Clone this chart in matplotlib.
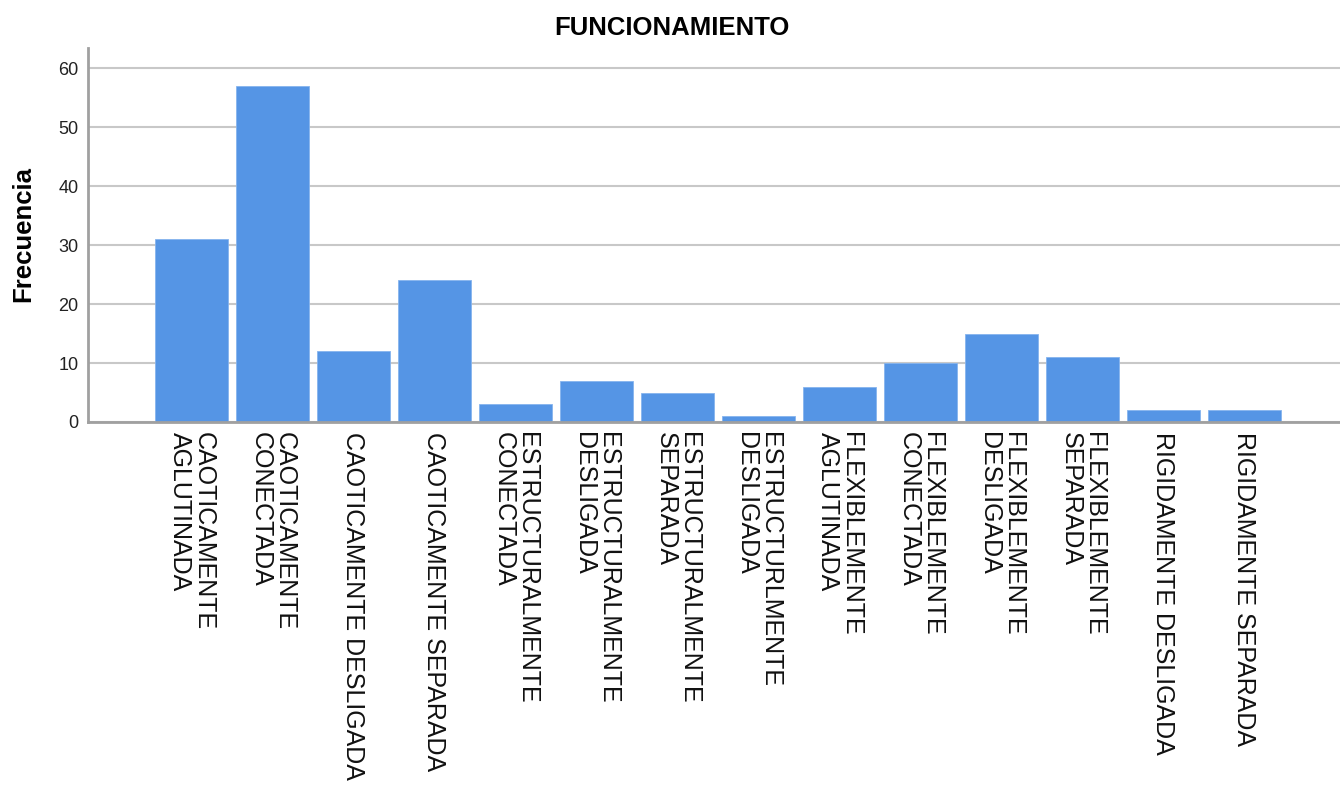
import matplotlib
matplotlib.use("Agg")
import matplotlib.pyplot as plt
from matplotlib.transforms import ScaledTranslation

categories = [
    "CAOTICAMENTE\nAGLUTINADA",
    "CAOTICAMENTE\nCONECTADA",
    "CAOTICAMENTE DESLIGADA",
    "CAOTICAMENTE SEPARADA",
    "ESTRUCTURALMENTE\nCONECTADA",
    "ESTRUCTURALMENTE\nDESLIGADA",
    "ESTRUCTURALMENTE\nSEPARADA",
    "ESTRUCTURLMENTE\nDESLIGADA",
    "FLEXIBLEMENTE\nAGLUTINADA",
    "FLEXIBLEMENTE\nCONECTADA",
    "FLEXIBLEMENTE\nDESLIGADA",
    "FLEXIBLEMENTE\nSEPARADA",
    "RIGIDAMENTE DESLIGADA",
    "RIGIDAMENTE SEPARADA",
]
frecuencia = [31, 57, 12, 24, 3, 7, 5, 1, 6, 10, 15, 11, 2, 2]
yticks = [0, 10, 20, 30, 40, 50, 60]

plt.rcParams['font.family'] = ['Liberation Sans', 'DejaVu Sans']

fig = plt.figure(figsize=(13.4, 7.87), dpi=100)
ax = fig.add_axes([88/1340, (787-422)/787, 1 - 88/1340, (422-48)/787])

x = list(range(len(categories)))
ax.bar(x, frecuencia, width=0.9, color='#5595e5', edgecolor='#86b4ee',
       linewidth=0.6, zorder=3)

ax.set_xlim(-1.278, 14.18)
ax.set_ylim(0, 63.4)
ax.set_yticks(yticks)
ax.set_yticklabels([str(v) for v in yticks], fontsize=13, color='#222222')
ax.set_xticks(x)
ax.set_xticklabels(categories, rotation=-90, fontsize=18, va='top',
                   ha='center', multialignment='left', linespacing=1.0,
                   color='#111111')
shift = ScaledTranslation(-5/100, 0, fig.dpi_scale_trans)
for lab in ax.get_xticklabels():
    lab.set_transform(lab.get_transform() + shift)
ax.tick_params(axis='both', length=0)
ax.tick_params(axis='x', pad=7)
ax.tick_params(axis='y', pad=7)

ax.yaxis.grid(True, color='#c8c8c8', linewidth=1.5, zorder=0)
ax.set_axisbelow(True)
for s in ['top', 'right']:
    ax.spines[s].set_visible(False)
for s in ['left', 'bottom']:
    ax.spines[s].set_color('#a0a0a0')
    ax.spines[s].set_linewidth(2)
    ax.spines[s].set_zorder(4)

fig.text(672/1340, 1 - 28/787, "FUNCIONAMIENTO", ha='center', va='center',
         fontsize=18.5, fontweight='bold')
fig.text(23/1340, 1 - 234/787, "Frecuencia", ha='center', va='center',
         rotation=90, fontsize=18.5, fontweight='bold')

fig.savefig("out.png", dpi=100)
